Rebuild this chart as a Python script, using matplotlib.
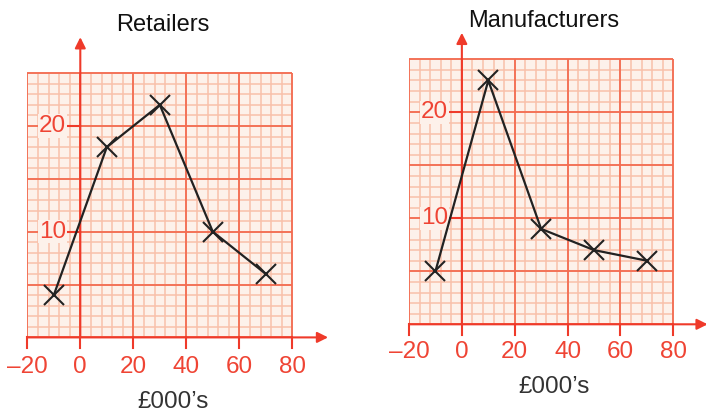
import matplotlib.pyplot as plt
import numpy as np

plt.rcParams['font.family'] = ['Liberation Sans', 'DejaVu Sans']

# data: frequency polygons at class mid-points (£000's)
x_mid = [-10, 10, 30, 50, 70]
retailers = [4, 18, 22, 10, 6]
manufacturers = [5, 23, 9, 7, 6]

x_ticks = [-20, 0, 20, 40, 60, 80]
x_tick_labels = ['\u201320', '0', '20', '40', '60', '80']
y_ticks = [10, 20]
titles = ['Retailers', 'Manufacturers']
x_label = "£000\u2019s"

BG = '#fdf1ea'
MINOR = '#f8c0aa'
MAJOR = '#f36c52'
RED = '#ef3a2a'
TXT_RED = '#ef4434'

W, H = 706, 415
fig = plt.figure(figsize=(W / 100, H / 100), dpi=100)


def panel(gx0, sx, gy0, sy, xmax, ymax, values, title, title_y, label_y, tick_y):
    ax = fig.add_axes([gx0 / W, (H - gy0) / H,
                       (xmax + 20) * sx / W, ymax * sy / H])
    ax.set_xlim(-20, xmax)
    ax.set_ylim(0, ymax)
    ax.axis('off')

    # graph paper
    ax.fill_between([-20, 80], 0, 25, color=BG, lw=0, zorder=0)
    ax.vlines(np.arange(-20, 81, 4), 0, 25, color=MINOR, lw=1.1, zorder=1)
    ax.hlines(np.arange(0, 26, 1), -20, 80, color=MINOR, lw=1.1, zorder=1)
    ax.vlines(np.arange(-20, 81, 20), 0, 25, color=MAJOR, lw=1.3, zorder=2)
    ax.hlines(np.arange(0, 26, 5), -20, 80, color=MAJOR, lw=1.3, zorder=2)

    # axes with arrows
    arrow = dict(arrowstyle='-|>', color=RED, lw=1.5, mutation_scale=16,
                 shrinkA=0, shrinkB=0)
    ax.annotate('', xy=(xmax, 0), xytext=(-20, 0), arrowprops=arrow,
                annotation_clip=False, zorder=3)
    ax.annotate('', xy=(0, ymax), xytext=(0, 0), arrowprops=arrow,
                annotation_clip=False, zorder=3)

    for v, lab in zip(x_ticks, x_tick_labels):
        ax.plot([v, v], [0, -1.05], color=RED, lw=1.5, clip_on=False)
        ax.text(v, tick_y, lab, ha='center', va='baseline', fontsize=17.5,
                color=TXT_RED)
    for v in y_ticks:
        ax.plot([-5, 0], [v, v], color=RED, lw=1.5, zorder=3)
        ax.text(-5.3, v, str(v), ha='right', va='center', fontsize=17.5,
                color=TXT_RED, zorder=4,
                bbox=dict(facecolor=BG, edgecolor='none', pad=0.5))

    ax.plot(x_mid, values, color='#222222', lw=1.6, marker='x',
            markersize=14, markeredgewidth=1.5, zorder=5)

    ax.text(31, title_y, title, ha='center', va='baseline', fontsize=17,
            color='#111111', clip_on=False)
    ax.text(35, label_y, x_label, ha='center', va='baseline', fontsize=17.5,
            color='#333333', clip_on=False)


panel(27.3, 2.65, 337.4, 10.57, 93.5, 28.4, retailers, titles[0],
      29.0, -6.7, -3.4)
panel(409.0, 2.643, 324.3, 10.6, 93.0, 27.5, manufacturers, titles[1],
      28.05, -6.5, -3.2)

fig.savefig('out.png', dpi=100)
